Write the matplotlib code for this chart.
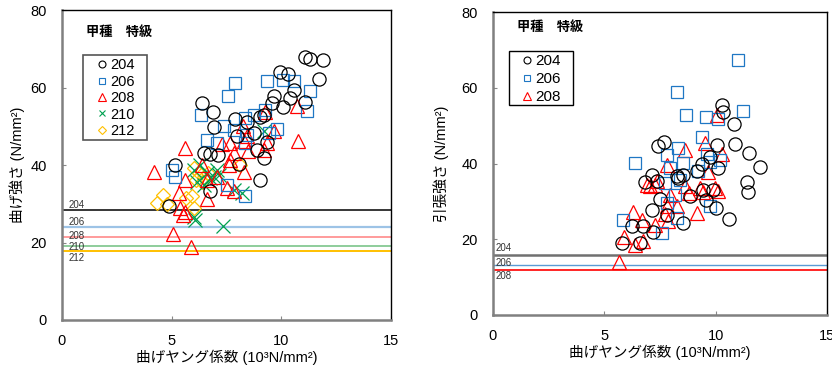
import matplotlib
matplotlib.use("Agg")
import matplotlib.pyplot as plt
from matplotlib.lines import Line2D
from matplotlib.patches import Rectangle

plt.rcParams['font.family'] = ['Liberation Sans', 'Noto Sans CJK JP', 'DejaVu Sans']

# ---------------- Left chart: bending strength ----------------
L204_x = [11.09, 11.29, 11.9, 11.7, 9.92, 10.3, 10.56, 9.65, 10.1, 10.4, 11.09, 9.57, 9.19, 9.04,
          6.38, 6.88, 6.91, 7.90, 8.43, 7.98, 8.74, 6.49, 6.76, 7.10, 9.35, 9.19, 8.89, 8.05,
          5.17, 6.73, 9.01, 4.86]
L204_y = [68.0, 67.4, 67.0, 62.2, 63.9, 63.4, 59.4, 57.7, 55.1, 57.3, 56.2, 56.0, 53.0, 52.4,
          56.0, 53.8, 49.7, 51.9, 51.2, 47.4, 48.4, 43.1, 42.9, 42.6, 45.9, 41.8, 43.9, 40.3,
          39.9, 33.2, 36.2, 29.5]

L206_x = [7.87, 7.55, 9.35, 10.08, 10.56, 11.32, 11.17, 6.35, 9.27, 8.77, 8.36, 7.37, 7.83,
          6.61, 7.07, 8.43, 9.8, 9.42, 5.02, 5.14, 7.52, 8.36, 8.36]
L206_y = [61.2, 57.7, 61.8, 62.0, 61.8, 59.0, 54.0, 53.0, 54.3, 53.0, 52.1, 50.1, 49.1,
          46.5, 45.6, 47.8, 49.3, 48.4, 38.8, 37.0, 34.9, 32.0, 45.6]

L208_x = [9.27, 10.71, 10.74, 9.65, 8.24, 8.43, 8.28, 9.35, 9.19, 7.67, 7.83, 8.5, 7.3, 5.62,
          4.21, 5.62, 7.6, 8.28, 7.07, 6.61, 6.38, 5.32, 6.61, 5.4, 5.52, 5.62, 7.52, 7.83,
          5.06, 5.88, 7.67]
L208_y = [53.8, 55.3, 46.1, 48.7, 50.0, 47.4, 46.1, 45.6, 43.8, 45.6, 43.1, 43.5, 45.5, 44.5,
          38.1, 36.2, 40.1, 38.1, 37.0, 36.2, 40.1, 32.7, 31.2, 28.9, 27.1, 28.0, 34.2, 33.3,
          22.1, 18.9, 41.4]

L210_x = [9.19, 7.34, 6.08, 6.0, 7.07, 6.91, 6.6, 6.3, 6.15, 6.46, 7.14, 7.83, 8.2, 6.0, 6.76]
L210_y = [48.7, 24.3, 25.7, 26.7, 38.8, 37.0, 37.9, 40.1, 35.7, 34.9, 37.5, 33.6, 32.7, 38.8, 36.6]

L212_x = [4.6, 4.33, 4.79, 6.0, 6.23, 6.38, 5.93, 6.0, 5.67, 6.46, 8.13, 6.12, 6.68]
L212_y = [32.3, 30.3, 30.0, 39.2, 37.9, 35.7, 32.0, 28.9, 31.4, 37.0, 40.1, 36.2, 37.9]

left_lines_names = ['204', '206', '208', '210', '212']
left_lines_vals = [28.3, 23.9, 21.3, 19.2, 17.9]
left_label_y = [29.8, 25.4, 21.6, 18.9, 16.0]

# ---------------- Right chart: tensile strength ----------------
R204_x = [10.28, 10.32, 10.83, 10.88, 11.48, 12.0, 11.4, 11.45, 10.05, 9.75, 10.13, 9.38, 9.15,
          9.45, 9.87, 9.56, 10.02, 10.58, 7.68, 7.43, 7.13, 6.83, 7.35, 8.25, 8.55, 8.33, 7.5,
          7.13, 7.8, 8.55, 8.85, 6.75, 6.23, 5.78, 6.6, 7.2]
R204_y = [55.4, 53.5, 50.4, 45.1, 42.9, 39.2, 35.2, 32.4, 44.9, 41.6, 38.9, 39.8, 38.1,
          33.0, 33.0, 30.3, 28.2, 25.4, 45.8, 44.5, 36.9, 35.0, 35.4, 36.7, 37.1, 36.1, 30.6,
          27.8, 26.5, 24.3, 31.4, 23.4, 23.6, 19.0, 19.0, 21.9]

R206_x = [11.0, 8.28, 8.67, 9.56, 10.13, 11.25, 9.38, 6.38, 8.33, 7.8, 7.95, 8.55, 9.23, 9.75,
          10.2, 8.4, 7.73, 8.18, 5.82, 8.25, 7.58, 9.75, 7.8, 9.6]
R206_y = [67.3, 58.9, 52.8, 52.2, 51.7, 53.8, 47.1, 40.2, 44.0, 42.2, 38.8, 40.1, 37.9, 40.5,
          41.0, 35.7, 34.8, 31.8, 25.0, 25.6, 21.6, 28.7, 29.6, 42.6]

R208_x = [10.05, 9.53, 8.63, 7.83, 10.28, 9.68, 6.9, 7.28, 7.05, 8.63, 8.82, 9.3, 9.45, 9.98,
          10.1, 7.95, 7.8, 8.25, 7.73, 7.88, 9.15, 6.3, 6.68, 5.9, 6.38, 6.72, 7.28, 5.67, 7.35]
R208_y = [52.8, 45.3, 43.7, 39.7, 42.5, 37.8, 34.4, 34.4, 34.0, 34.0, 32.3, 33.5, 32.6, 33.5,
          32.8, 31.8, 28.8, 28.8, 26.6, 24.9, 26.9, 27.3, 25.1, 20.7, 18.5, 19.5, 23.7, 14.1, 35.3]

right_lines_names = ['204', '206', '208']
right_lines_vals = [15.9, 13.3, 11.8]
right_label_y = [17.7, 13.7, 10.2]

# ---------------- styles ----------------
C_BLACK = '#000000'
C_BLUE = '#1F77C4'
C_RED = '#FF0000'
C_GREEN = '#00A050'
C_YELLOW = '#FFC000'

fig = plt.figure(figsize=(8.32, 3.65), dpi=100)
axL = fig.add_axes([0.0745, 0.1233, 0.3954, 0.849])
axR = fig.add_axes([0.5925, 0.137, 0.4014, 0.830])


def style_axes(ax, ylabel, ylabelpad, title_y):
    ax.set_xlim(0, 15)
    ax.set_ylim(0, 80)
    ax.set_xticks([0, 5, 10, 15])
    ax.set_yticks([0, 20, 40, 60, 80])
    ax.tick_params(direction='in', length=3, labelsize=10.5, color='#888888')
    ax.tick_params(axis='y', pad=11)
    ax.tick_params(axis='x', pad=10)
    for s in ['left', 'bottom']:
        ax.spines[s].set_color('#808080')
        ax.spines[s].set_linewidth(1.8)
    for s in ['top', 'right']:
        ax.spines[s].set_color('#000000')
        ax.spines[s].set_linewidth(1.0)
    ax.set_xlabel('曲げヤング係数 (10³N/mm²)', fontsize=10.5, labelpad=1)
    ax.set_ylabel(ylabel, fontsize=10.5, labelpad=ylabelpad)
    ax.text(1.1, title_y, '甲種　特級', fontsize=9.5, fontweight='bold', va='center', ha='left')


def boxed_legend(ax, handles, labels, anchor, box, fontsize, spacing, edge, lw):
    leg = ax.legend(handles, labels, loc='upper left', bbox_to_anchor=anchor,
                    fontsize=fontsize, frameon=False, handlelength=0.6, handletextpad=0.25,
                    labelspacing=spacing, borderpad=0, borderaxespad=0)
    leg.set_zorder(20)
    x0, y0, x1, y1 = box
    rect = Rectangle((x0, y0), x1 - x0, y1 - y0, transform=ax.transAxes, facecolor='white',
                     edgecolor=edge, lw=lw, zorder=19, clip_on=False)
    ax.add_patch(rect)
    return leg


mew = 0.9

# Left chart
style_axes(axL, '曲げ強さ (N/mm²)', 4, 74.1)
left_line_colors = ['#000000', '#9DC3E6', '#FF9B9B', '#70C080', '#FFC000']
left_line_widths = [1.1, 1.6, 1.4, 1.1, 1.4]
for name, v, c, lw, ly in zip(left_lines_names, left_lines_vals, left_line_colors,
                              left_line_widths, left_label_y):
    axL.axhline(v, color=c, lw=lw, zorder=1)
    axL.text(0.28, ly, name, fontsize=7, va='center', ha='left', color='#333333', zorder=2)

axL.plot(L212_x, L212_y, 'D', ms=7.5, mfc='none', mec=C_YELLOW, mew=mew, ls='none', zorder=3)
axL.plot(L210_x, L210_y, 'x', ms=9.5, mec=C_GREEN, mew=mew, ls='none', zorder=4)
axL.plot(L208_x, L208_y, '^', ms=10.5, mfc='none', mec=C_RED, mew=mew, ls='none', zorder=5)
axL.plot(L206_x, L206_y, 's', ms=9, mfc='none', mec=C_BLUE, mew=mew, ls='none', zorder=6)
axL.plot(L204_x, L204_y, 'o', ms=9.5, mfc='none', mec=C_BLACK, mew=mew, ls='none', zorder=7)

handlesL = [
    Line2D([], [], marker='o', ls='none', mfc='none', mec=C_BLACK, ms=5, mew=0.8),
    Line2D([], [], marker='s', ls='none', mfc='none', mec=C_BLUE, ms=5, mew=0.8),
    Line2D([], [], marker='^', ls='none', mfc='none', mec=C_RED, ms=5.5, mew=0.8),
    Line2D([], [], marker='x', ls='none', mec=C_GREEN, ms=5, mew=0.8),
    Line2D([], [], marker='D', ls='none', mfc='none', mec=C_YELLOW, ms=4, mew=0.8),
]
boxed_legend(axL, handlesL, left_lines_names, (0.108, 0.845),
             (0.0638, 0.581, 0.258, 0.855), 10.5, 0.17, '#555555', 1.2)

# Right chart
style_axes(axR, '引張強さ (N/mm²)', 9, 76)
right_line_colors = ['#707070', '#5B9BD5', '#FF0000']
right_line_widths = [1.8, 1.0, 1.2]
for name, v, c, lw, ly in zip(right_lines_names, right_lines_vals, right_line_colors,
                              right_line_widths, right_label_y):
    axR.axhline(v, color=c, lw=lw, zorder=1)
    axR.text(0.12, ly, name, fontsize=7, va='center', ha='left', color='#333333', zorder=2)

axR.plot(R208_x, R208_y, '^', ms=10.5, mfc='none', mec=C_RED, mew=mew, ls='none', zorder=5)
axR.plot(R206_x, R206_y, 's', ms=9, mfc='none', mec=C_BLUE, mew=mew, ls='none', zorder=6)
axR.plot(R204_x, R204_y, 'o', ms=9.5, mfc='none', mec=C_BLACK, mew=mew, ls='none', zorder=7)

boxed_legend(axR, handlesL[:3], right_lines_names, (0.088, 0.861),
             (0.0479, 0.693, 0.2395, 0.871), 11, 0.27, '#000000', 1.0)

fig.savefig('out.png', dpi=100)
